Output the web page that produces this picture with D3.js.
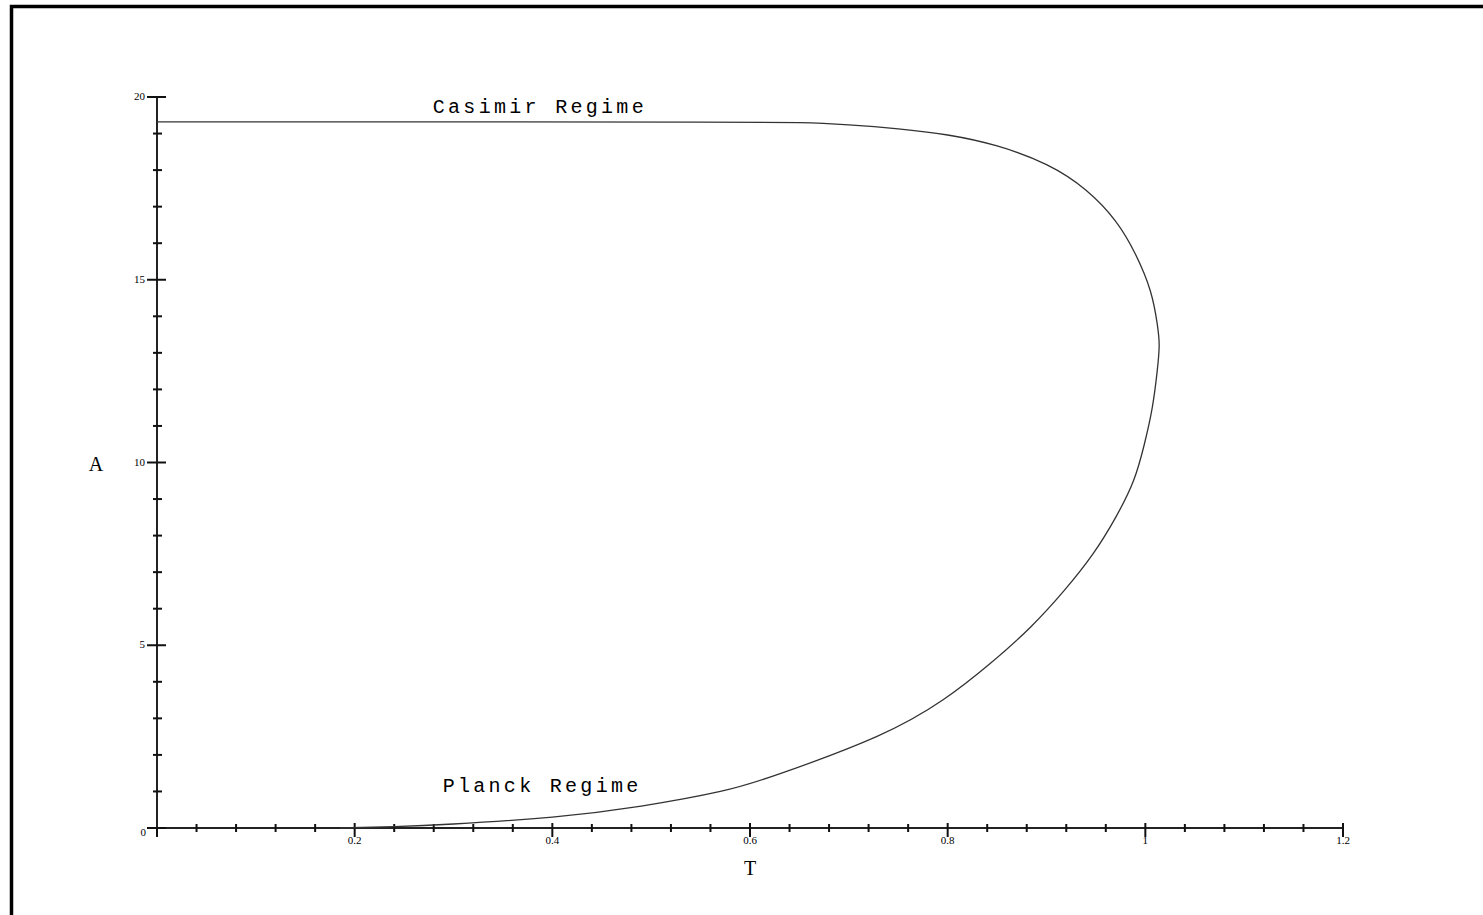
<!DOCTYPE html>
<html>
<head>
<meta charset="utf-8">
<script src="https://cdn.jsdelivr.net/npm/d3@7"></script>
<style>
  body { margin: 0; background: #fff; }
  svg { display: block; }
</style>
</head>
<body>
<svg id="chart" width="1483" height="915"></svg>
<script>
// curve samples (T, A), upper branch then lower branch
const tValues = [0, 0.3, 0.55, 0.65, 0.7, 0.75, 0.8, 0.85, 0.9, 0.94, 0.97, 0.99, 1.005, 1.012, 1.014,
  1.012, 1.007, 0.999, 0.988, 0.97, 0.947, 0.918, 0.884, 0.843, 0.795, 0.728, 0.632, 0.57,
  0.49, 0.4, 0.3, 0.24, 0.185];
const aValues = [19.32, 19.32, 19.31, 19.3, 19.24, 19.13, 18.96, 18.66, 18.15, 17.45, 16.6, 15.7, 14.7, 13.8, 13.2,
  12.5, 11.5, 10.5, 9.5, 8.5, 7.5, 6.5, 5.5, 4.5, 3.5, 2.5, 1.5, 1.0,
  0.6, 0.3, 0.11, 0.04, 0];
const xTickLabels = ["0", "0.2", "0.4", "0.6", "0.8", "1", "1.2"];
const yTickLabels = ["0", "5", "10", "15", "20"];
const regimeLabels = [
  { text: "Casimir Regime", t: 0.279, a: 19.55 },
  { text: "Planck Regime", t: 0.289, a: 0.98 }
];

const svg = d3.select("#chart");

// outer frame (only top and left edges fall inside the window)
svg.append("rect")
  .attr("x", 11.5).attr("y", 6.5)
  .attr("width", 1500).attr("height", 1000)
  .attr("fill", "none")
  .attr("stroke", "#000")
  .attr("stroke-width", 3.5);

const x = d3.scaleLinear().domain([0, 1.2]).range([157, 1343]);
const y = d3.scaleLinear().domain([0, 20]).range([828, 97]);

const g = svg.append("g");

// x axis
g.append("line")
  .attr("x1", x(0)).attr("x2", x(1.2))
  .attr("y1", y(0)).attr("y2", y(0))
  .attr("stroke", "#222").attr("stroke-width", 2);

const xMinor = d3.range(0, 31).map((i) => i * 0.04);
g.selectAll(".xminor")
  .data(xMinor.filter((d, i) => i % 5 !== 0))
  .enter().append("line")
  .attr("x1", (d) => x(d)).attr("x2", (d) => x(d))
  .attr("y1", y(0) - 4).attr("y2", y(0) + 4)
  .attr("stroke", "#111").attr("stroke-width", 2);

g.selectAll(".xmajor")
  .data(xTickLabels)
  .enter().append("line")
  .attr("x1", (d) => x(+d)).attr("x2", (d) => x(+d))
  .attr("y1", y(0) - 5).attr("y2", y(0) + 9)
  .attr("stroke", "#111").attr("stroke-width", 2);

g.selectAll(".xlabel")
  .data(xTickLabels.slice(1))
  .enter().append("text")
  .attr("x", (d) => x(+d)).attr("y", y(0) + 16)
  .attr("text-anchor", "middle")
  .style("font-family", "Liberation Serif")
  .style("font-size", "11px")
  .text((d) => d);

// y axis
g.append("line")
  .attr("x1", x(0)).attr("x2", x(0))
  .attr("y1", y(0)).attr("y2", y(20))
  .attr("stroke", "#222").attr("stroke-width", 2);

const yMinor = d3.range(0, 21);
g.selectAll(".yminor")
  .data(yMinor.filter((d) => d % 5 !== 0))
  .enter().append("line")
  .attr("x1", x(0) - 4).attr("x2", x(0) + 5)
  .attr("y1", (d) => y(d)).attr("y2", (d) => y(d))
  .attr("stroke", "#111").attr("stroke-width", 2);

g.selectAll(".ymajor")
  .data(yTickLabels)
  .enter().append("line")
  .attr("x1", x(0) - 10).attr("x2", x(0) + 9)
  .attr("y1", (d) => y(+d)).attr("y2", (d) => y(+d))
  .attr("stroke", "#111").attr("stroke-width", 2);

g.selectAll(".ylabel")
  .data(yTickLabels)
  .enter().append("text")
  .attr("x", (d) => (d === "0" ? x(0) - 11 : x(0) - 12))
  .attr("y", (d) => (d === "0" ? y(0) + 8 : y(+d) + 3))
  .attr("text-anchor", "end")
  .style("font-family", "Liberation Serif")
  .style("font-size", "11px")
  .text((d) => d);

// axis titles
svg.append("text")
  .attr("x", 750).attr("y", 875)
  .attr("text-anchor", "middle")
  .style("font-family", "Liberation Serif")
  .style("font-size", "20px")
  .text("T");

svg.append("text")
  .attr("x", 96).attr("y", 471)
  .attr("text-anchor", "middle")
  .style("font-family", "Liberation Serif")
  .style("font-size", "20px")
  .text("A");

// curve
const points = tValues.map((t, i) => [t, aValues[i]]);
const line = d3.line()
  .x((d) => x(d[0]))
  .y((d) => y(d[1]))
  .curve(d3.curveNatural);

g.append("path")
  .attr("d", line(points))
  .attr("fill", "none")
  .attr("stroke", "#333")
  .attr("stroke-width", 1.3);

// regime labels
g.selectAll(".regime")
  .data(regimeLabels)
  .enter().append("text")
  .attr("x", (d) => x(d.t))
  .attr("y", (d) => y(d.a))
  .style("font-family", "Liberation Mono")
  .style("font-size", "20px")
  .style("letter-spacing", "3.3px")
  .text((d) => d.text);
</script>
</body>
</html>
